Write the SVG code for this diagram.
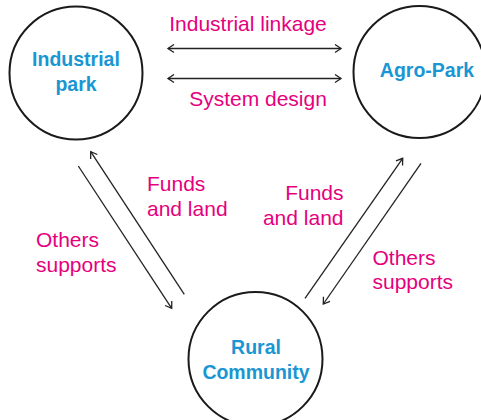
<svg xmlns="http://www.w3.org/2000/svg" width="481" height="420" viewBox="0 0 481 420">
<style>
.node{fill:#fff;stroke:#1a1a1a;stroke-width:2}
.nt{font-family:"Liberation Sans",Arial,sans-serif;font-weight:bold;font-size:19.5px;fill:#1a96d2;text-anchor:middle}
.lbl{font-family:"Liberation Sans",Arial,sans-serif;font-size:21px;fill:#e5007d}
.c{stroke:#222;stroke-width:1.3;fill:none;marker-end:url(#ah)}
.d{marker-start:url(#ah)}
</style>
<defs>
<marker id="ah" viewBox="0 0 10 10" refX="8" refY="5" markerWidth="10" markerHeight="10" markerUnits="userSpaceOnUse" orient="auto-start-reverse">
<path d="M2,1 L8,5 L2,9" fill="none" stroke="#222" stroke-width="1.3"/>
</marker>
</defs>
<rect width="481" height="420" fill="#fff"/>
<g id="industrial-park">
<circle class="node" cx="76" cy="73" r="66.5"/>
<text class="nt" x="76" y="66">Industrial</text>
<text class="nt" x="76" y="91">park</text>
</g>
<g id="agro-park">
<circle class="node" cx="419.5" cy="72" r="66"/>
<text class="nt" x="427" y="77">Agro-Park</text>
</g>
<g id="rural-community">
<circle class="node" cx="255.5" cy="359" r="67"/>
<text class="nt" x="256" y="354">Rural</text>
<text class="nt" x="256" y="379">Community</text>
</g>
<g id="connectors">
<line class="c d" x1="168" y1="48.5" x2="341" y2="48.5"/>
<line class="c d" x1="168" y1="78.5" x2="341" y2="78.5"/>
<line class="c" x1="184.3" y1="294.3" x2="90.7" y2="151.7"/>
<line class="c" x1="78.3" y1="166" x2="171.7" y2="308.3"/>
<line class="c" x1="305" y1="298.3" x2="402.7" y2="158.3"/>
<line class="c" x1="421" y1="163.3" x2="323.3" y2="304"/>
</g>
<g id="labels">
<text class="lbl" x="248" y="31" text-anchor="middle">Industrial linkage</text>
<text class="lbl" x="258" y="106" text-anchor="middle">System design</text>
<text class="lbl" x="147" y="191">Funds</text>
<text class="lbl" x="147" y="216">and land</text>
<text class="lbl" x="36" y="247">Others</text>
<text class="lbl" x="36" y="272">supports</text>
<text class="lbl" x="343.5" y="200" text-anchor="end">Funds</text>
<text class="lbl" x="343.5" y="225" text-anchor="end">and land</text>
<text class="lbl" x="372.5" y="265">Others</text>
<text class="lbl" x="372.5" y="289">supports</text>
</g>
</svg>
